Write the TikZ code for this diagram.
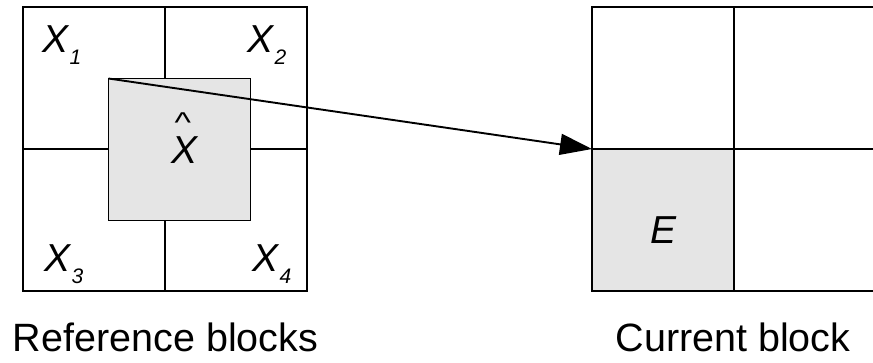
\documentclass[tikz,border=0pt]{standalone}
\usepackage{fontspec}
\setmainfont{Liberation Sans}
\usetikzlibrary{arrows.meta}

% block label: italic X with a dropped subscript
\newcommand\blocklabel[1]{\itshape X\kern1.5pt\raisebox{-12.5pt}{\fontsize{21pt}{21pt}\selectfont #1}}
% italic X with a free-standing hat well above it
\newcommand\hatlabel{\makebox[0pt][l]{\kern3.3pt\raisebox{30.3pt}{\fontsize{35pt}{35pt}\selectfont\upshape\scalebox{1}[0.82]{\char`\^}}}\itshape X}

\tikzset{
  blk/.style={draw, line width=1.9pt, minimum width=142pt, minimum height=142pt,
              inner sep=0pt, outer sep=0pt, anchor=north west},
  shaded/.style={fill=gray!20},
  lbl/.style={inner sep=0pt, anchor=base west, font=\fontsize{39pt}{39pt}\selectfont},
  caption/.style={inner sep=0pt, anchor=base, font=\fontsize{39.5pt}{40pt}\selectfont},
  gridline/.style={line width=1.9pt},
  motion/.style={line width=1.9pt, -{Triangle[length=32pt,width=21pt]}}
}

\begin{document}
\begin{tikzpicture}[x=1pt, y=-1pt]
  \useasboundingbox (0,0) rectangle (873,362);

  % reference blocks: 2x2 grid
  \node[blk] (x1) at (23,7) {};
  \node[blk] (x2) at (165,7) {};
  \node[blk] (x3) at (23,149) {};
  \node[blk] (x4) at (165,149) {};

  % best-matching block overlapping the four reference blocks
  \node[blk, shaded] (xh) at (108.5,78.5) {};

  % current block grid, right column runs off the edge
  \node[blk] (r1) at (592,7) {};
  \node[blk, shaded] (e) at (592,149) {};
  \coordinate (rt) at (873,7);
  \coordinate (rm) at (873,149);
  \coordinate (rb) at (873,291);
  \draw[gridline] (r1.north east) -- (rt);
  \draw[gridline] (r1.south east) -- (rm);
  \draw[gridline] (e.south east) -- (rb);

  % motion vector
  \draw[motion] (xh.north west) -- (e.north west);

  % labels
  \node[lbl] (l1) at (42,52) {\blocklabel{1}};
  \node[lbl] (l2) at (247,52) {\blocklabel{2}};
  \node[lbl] (l3) at (44,271) {\blocklabel{3}};
  \node[lbl] (l4) at (252,271) {\blocklabel{4}};
  \node[lbl] (lh) at (171,163) {\hatlabel};
  \node[lbl, anchor=base] (le) at (663,243) {\itshape E};

  \node[caption] (cref) at (165.5,351) {Reference blocks};
  \node[caption] (ccur) at (733,351) {Current block};
\end{tikzpicture}
\end{document}
